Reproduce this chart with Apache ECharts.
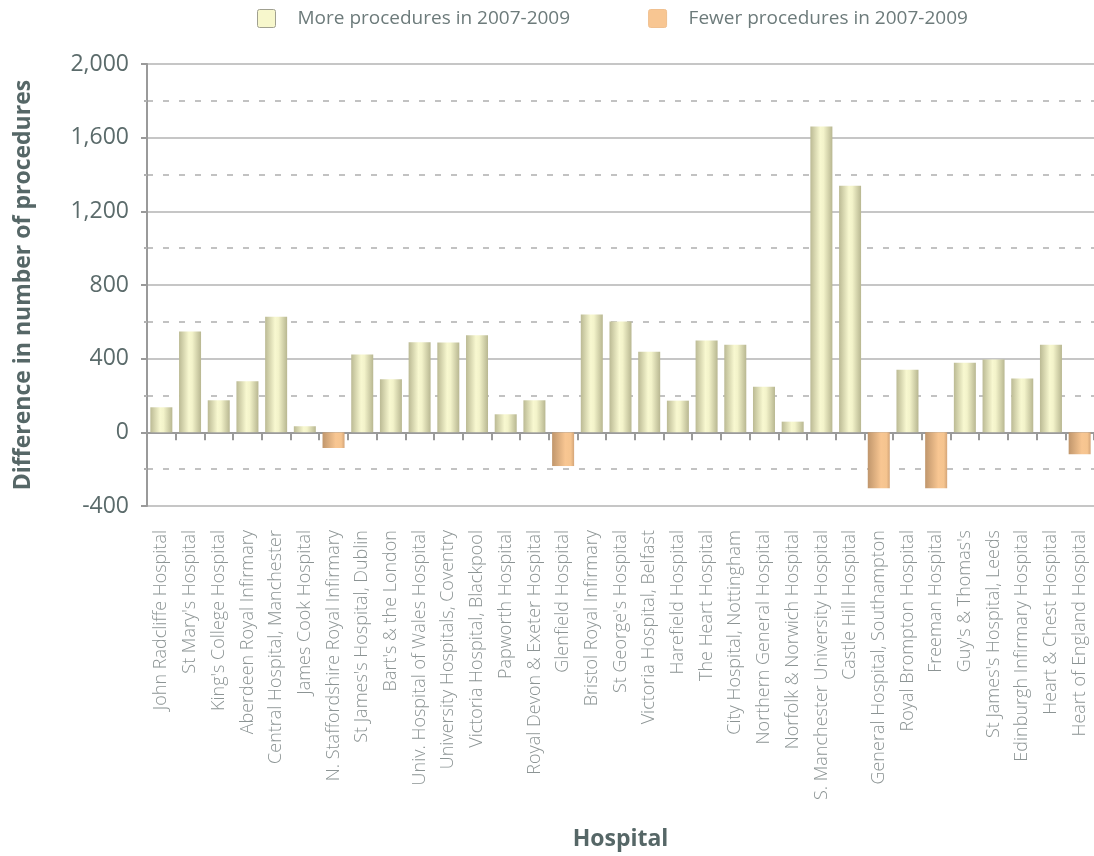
<!DOCTYPE html>
<html>
<head>
<meta charset="utf-8">
<script src="https://cdn.jsdelivr.net/npm/echarts@6/dist/echarts.min.js"></script>
<style>
html,body{margin:0;padding:0;background:#fff;}
#chart{width:1094px;height:856px;}
</style>
</head>
<body>
<div id="chart"></div>
<script>
const hospitals = [
  "John Radcliffe Hospital", "St Mary's Hospital", "King's College Hospital", "Aberdeen Royal Infirmary",
  "Central Hospital, Manchester", "James Cook Hospital", "N. Staffordshire Royal Infirmary",
  "St James's Hospital, Dublin", "Bart's & the London", "Univ. Hospital of Wales Hospital",
  "University Hospitals, Coventry", "Victoria Hospital, Blackpool", "Papworth Hospital",
  "Royal Devon & Exeter Hospital", "Glenfield Hospital", "Bristol Royal Infirmary",
  "St George's Hospital", "Victoria Hospital, Belfast", "Harefield Hospital", "The Heart Hospital",
  "City Hospital, Nottingham", "Northern General Hospital", "Norfolk & Norwich Hospital",
  "S. Manchester University Hospital", "Castle Hill Hospital", "General Hospital, Southampton",
  "Royal Brompton Hospital", "Freeman Hospital", "Guy's & Thomas's", "St James's Hospital, Leeds",
  "Edinburgh Infirmary Hospital", "Heart & Chest Hospital", "Heart of England Hospital"
];
const differences = [
  136, 548, 174, 277, 628, 33, -85, 423, 288, 489, 488, 527, 98, 174, -183, 640, 602,
  438, 172, 498, 476, 248, 58, 1660, 1339, -303, 340, -303, 378, 395, 292, 476, -119
];
const seriesNames = ["More procedures in 2007-2009", "Fewer procedures in 2007-2009"];
const yTicks = { min: -400, max: 2000, interval: 400 };

const moreValues = differences.map(v => v >= 0 ? v : '-');
const fewerValues = differences.map(v => v < 0 ? v : '-');

const FONT = '"Open Sans", "Noto Sans", sans-serif';
const chart = echarts.init(document.getElementById('chart'), null, {renderer: 'canvas'});

const yellowGrad = new echarts.graphic.LinearGradient(0, 0, 1, 0, [
  {offset: 0, color: '#bbba94'},
  {offset: 0.45, color: '#f8f8d0'},
  {offset: 0.6, color: '#f3f3ca'},
  {offset: 1, color: '#b8b791'}
]);
const orangeGrad = new echarts.graphic.LinearGradient(0, 0, 1, 0, [
  {offset: 0, color: '#c0966c'},
  {offset: 0.6, color: '#f8c692'},
  {offset: 0.85, color: '#f5c48f'},
  {offset: 1, color: '#d4a578'}
]);

const squareIcon = 'path://M2,0 H16 A2,2 0 0 1 18,2 V16 A2,2 0 0 1 16,18 H2 A2,2 0 0 1 0,16 V2 A2,2 0 0 1 2,0 Z';

chart.setOption({
  animation: false,
  textStyle: {fontFamily: FONT},
  legend: {
    left: 257, top: 9, padding: 0,
    itemWidth: 18, itemHeight: 18, itemGap: 78,
    icon: squareIcon,
    textStyle: {fontFamily: FONT, fontSize: 19, color: '#6d7b7b', padding: [0, 0, 0, 17]},
    data: [
      {name: seriesNames[0], itemStyle: {color: '#f7f7cc', borderColor: '#a0a090', borderWidth: 1}},
      {name: seriesNames[1], itemStyle: {color: '#f8c692', borderColor: '#f0c090', borderWidth: 1}}
    ]
  },
  grid: {left: 147, right: -3, top: 64, bottom: 349, containLabel: false},
  xAxis: [
    {
      type: 'category', data: hospitals, position: 'bottom', gridIndex: 0,
      axisLine: {show: false, onZero: false},
      axisTick: {show: false},
      axisLabel: {rotate: 90, margin: 24, fontSize: 18, fontWeight: 300, color: '#8c9494', fontFamily: FONT, interval: 0},
      name: 'Hospital', nameLocation: 'middle', nameGap: 322,
      nameTextStyle: {fontSize: 23, fontWeight: 'bold', color: '#566767', fontFamily: FONT}
    },
    {
      type: 'category', data: hospitals, position: 'bottom', gridIndex: 0,
      axisLine: {show: true, onZero: true, lineStyle: {color: '#9a9a9a', width: 2}},
      axisTick: {show: true, interval: 0, length: 8, lineStyle: {color: '#9a9a9a', width: 2}},
      axisLabel: {show: false, interval: 0}
    }
  ],
  yAxis: {
    type: 'value', min: yTicks.min, max: yTicks.max, interval: yTicks.interval,
    axisLine: {show: true, lineStyle: {color: '#9a9a9a', width: 2}},
    axisTick: {show: true, length: 6, lineStyle: {color: '#9a9a9a', width: 2}},
    minorTick: {show: true, splitNumber: 2, length: 3, lineStyle: {color: '#b0b0b0', width: 2}},
    axisLabel: {
      margin: 18, fontSize: 23, color: '#5b6b6b', fontFamily: FONT,
      formatter: v => v.toLocaleString('en-US')
    },
    splitLine: {show: true, lineStyle: {color: '#c6c6c6', width: 2}},
    minorSplitLine: {show: true, lineStyle: {color: '#c2c2c2', width: 2, type: [6, 10]}},
    name: 'Difference in number of procedures', nameLocation: 'middle', nameGap: 112, nameRotate: 90,
    nameTextStyle: {fontSize: 23, fontWeight: 'bold', color: '#566767', fontFamily: FONT}
  },
  series: [
    {
      name: seriesNames[0], type: 'bar', xAxisIndex: 0, stack: 'diff', data: moreValues,
      barWidth: 22, itemStyle: {color: yellowGrad}
    },
    {
      name: seriesNames[1], type: 'bar', xAxisIndex: 0, stack: 'diff', data: fewerValues,
      barWidth: 22, itemStyle: {color: orangeGrad}
    }
  ]
});
</script>
</body>
</html>
